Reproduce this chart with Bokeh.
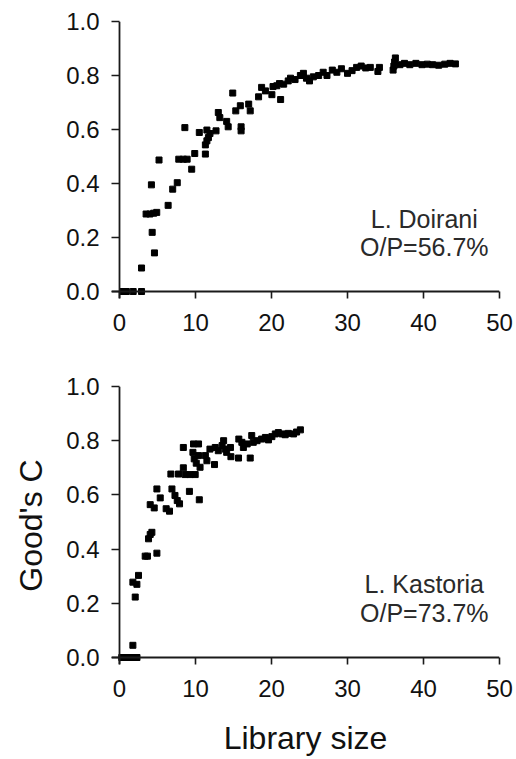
from bokeh.plotting import figure
from bokeh.layouts import column
from bokeh.models import Span, Label, FixedTicker, PrintfTickFormatter, Range1d
from bokeh.embed import file_html
from bokeh.resources import INLINE

# ---- data: L. Doirani (top panel) ----
doirani_x = [0.4, 0.9, 1.8, 2.9, 2.9, 4.2, 3.5, 4.0, 4.5, 4.9, 4.3, 4.6, 5.2, 6.4, 7.0, 7.6,
             7.8, 8.4, 8.9, 8.6, 9.5, 9.9, 10.5, 11.3, 11.3, 11.5, 11.7, 11.9, 11.5, 12.7,
             13.0, 13.2, 14.1, 14.3, 14.9, 15.3, 15.9, 16.0, 16.0, 17.0, 17.2, 18.3, 18.7,
             19.2, 20.05, 20.2, 20.7, 21.05, 21.2, 21.6, 22.2, 22.5, 23.1, 23.8, 24.2, 24.6,
             25.0, 25.5, 26.2, 26.8, 27.3, 28.0, 28.6, 29.2, 30.0, 30.6, 31.2, 31.8, 32.4,
             33.0, 34.0, 34.2, 36.0, 36.1, 36.2, 36.3, 36.9, 37.5, 38.2, 39.0, 39.8, 40.5,
             41.2, 42.0, 42.8, 43.5, 44.2]
doirani_y = [0.0, 0.0, 0.0, 0.0, 0.087, 0.395, 0.287, 0.287, 0.290, 0.293, 0.219, 0.143,
             0.487, 0.319, 0.379, 0.403, 0.49, 0.49, 0.49, 0.607, 0.453, 0.511, 0.589, 0.509,
             0.543, 0.558, 0.570, 0.585, 0.598, 0.595, 0.663, 0.644, 0.630, 0.610, 0.735,
             0.669, 0.688, 0.610, 0.595, 0.694, 0.669, 0.721, 0.756, 0.743, 0.729, 0.759,
             0.762, 0.770, 0.711, 0.768, 0.780, 0.790, 0.785, 0.800, 0.808, 0.790, 0.780,
             0.795, 0.800, 0.812, 0.800, 0.820, 0.812, 0.825, 0.808, 0.818, 0.830, 0.835,
             0.828, 0.830, 0.815, 0.830, 0.820, 0.835, 0.850, 0.865, 0.840, 0.845, 0.840,
             0.845, 0.840, 0.842, 0.840, 0.838, 0.842, 0.845, 0.843]

# ---- data: L. Kastoria (bottom panel) ----
kastoria_x = [0.3, 0.7, 1.1, 1.5, 1.9, 2.3, 1.76, 1.76, 2.29, 2.5, 2.07, 3.38, 3.68, 4.92,
              3.82, 4.04, 4.26, 4.04, 4.57, 4.92, 5.36, 6.14, 6.58, 6.9, 7.3, 7.6, 7.9, 6.76,
              7.76, 8.64, 9.3, 9.96, 9.2, 10.5, 8.4, 8.4, 9.74, 10.4, 9.66, 9.83, 10.1, 10.4,
              10.6, 11.3, 11.5, 12.5, 11.9, 12.6, 13.0, 13.5, 13.7, 13.9, 14.1, 14.6, 14.66,
              15.66, 17.2, 15.7, 16.1, 16.3, 16.8, 17.4, 17.6, 18.1, 18.7, 19.2, 19.6, 20.05,
              20.5, 20.9, 21.4, 21.8, 22.2, 22.9, 23.3, 23.8]
kastoria_y = [0.0, 0.0, 0.0, 0.0, 0.0, 0.0, 0.045, 0.278, 0.270, 0.303, 0.223, 0.374, 0.374,
              0.385, 0.438, 0.454, 0.462, 0.564, 0.552, 0.622, 0.589, 0.549, 0.540, 0.622,
              0.598, 0.579, 0.567, 0.677, 0.677, 0.675, 0.675, 0.675, 0.613, 0.582, 0.775,
              0.700, 0.788, 0.788, 0.757, 0.733, 0.717, 0.745, 0.702, 0.745, 0.726, 0.712,
              0.769, 0.775, 0.763, 0.782, 0.800, 0.769, 0.757, 0.775, 0.741, 0.736, 0.736,
              0.806, 0.794, 0.775, 0.788, 0.819, 0.794, 0.800, 0.806, 0.812, 0.803, 0.815,
              0.825, 0.830, 0.825, 0.822, 0.827, 0.825, 0.832, 0.840]

x_ticks = [0, 10, 20, 30, 40, 50]
y_ticks = [0.0, 0.2, 0.4, 0.6, 0.8, 1.0]
lake_names = ["L. Doirani", "L. Kastoria"]
op_labels = ["O/P=56.7%", "O/P=73.7%"]

FONT = "Liberation Sans"
PX_X = 380.0 / 50.0


def make_panel(xs, ys, name, op, frame_h, px_y, top, bottom, xlabel=None, ylabel=None):
    p = figure(frame_width=388, frame_height=frame_h,
               x_range=Range1d(-8.0 / PX_X, 50), y_range=Range1d(-7.0 / px_y, 1.0),
               output_backend="svg", toolbar_location=None,
               min_border_left=111, min_border_right=15,
               min_border_top=top, min_border_bottom=bottom)
    p.grid.visible = False
    p.outline_line_color = None
    p.background_fill_color = "white"
    p.border_fill_color = "white"

    for ax, tk, tin in ((p.xaxis[0], x_ticks, 7), (p.yaxis[0], y_ticks, 8)):
        ax.ticker = FixedTicker(ticks=tk)
        ax.axis_line_color = None
        ax.major_tick_in = tin
        ax.major_tick_out = 0
        ax.minor_tick_line_color = None
        ax.major_tick_line_color = "#1a1a1a"
        ax.major_tick_line_width = 1.6
        ax.major_label_text_font = FONT
        ax.major_label_text_font_size = "24px"
        ax.major_label_text_color = "#111111"
        ax.axis_label_text_font = FONT
        ax.axis_label_text_font_size = "32px"
        ax.axis_label_text_font_style = "normal"
        ax.axis_label_text_color = "#111111"
    p.xaxis[0].major_label_standoff = 15
    p.yaxis[0].major_label_standoff = 12
    p.yaxis[0].formatter = PrintfTickFormatter(format="%.1f")
    if xlabel:
        p.xaxis[0].axis_label = xlabel
        p.xaxis[0].axis_label_standoff = 20
    if ylabel:
        p.yaxis[0].axis_label = ylabel
        p.yaxis[0].axis_label_standoff = 14

    p.scatter(xs, ys, marker="square", size=6, color="black")

    p.add_layout(Span(location=0, dimension="width", line_color="#1a1a1a", line_width=1.8))
    p.add_layout(Span(location=0, dimension="height", line_color="#1a1a1a", line_width=1.8))

    p.add_layout(Label(x=40.1, y=0.27, text=name, text_align="center", text_baseline="middle",
                       text_font=FONT, text_font_size="25px", text_color="#2a2a2a"))
    p.add_layout(Label(x=40.1, y=0.165, text=op, text_align="center", text_baseline="middle",
                       text_font=FONT, text_font_size="25px", text_color="#2a2a2a"))
    return p


p1 = make_panel(doirani_x, doirani_y, lake_names[0], op_labels[0], 277, 270.0, 21, 50)
p2 = make_panel(kastoria_x, kastoria_y, lake_names[1], op_labels[1], 278, 271.0, 38, 88,
                xlabel="Library size", ylabel="Good's C")

layout = column(p1, p2, spacing=0)
open("out.html", "w").write(file_html(layout, INLINE))
